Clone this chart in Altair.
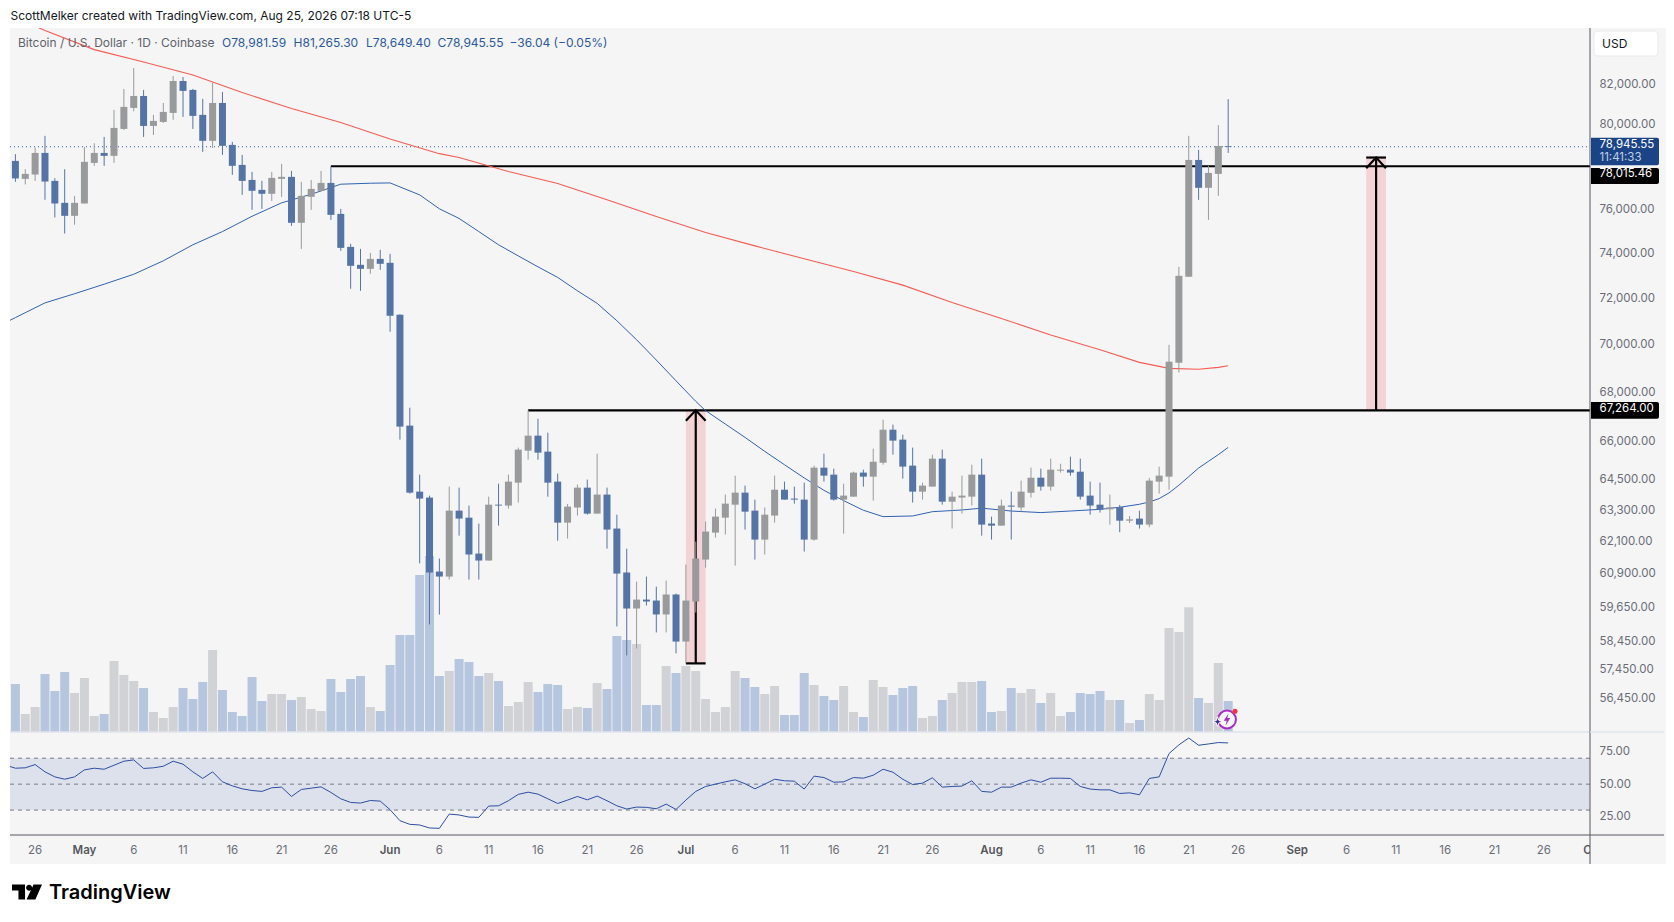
import altair as alt
import pandas as pd

# ---------- data ----------
START = "2026-04-24"
OPEN = [78270,77420,77625,78650,77325,76300,75700,76270,78175,78650,
78510,79805,80830,81420,79950,80145,80585,82165,81720,80490,
79230,81075,79035,78080,77370,76905,76720,77420,77515,75380,
76580,76860,77230,75790,74285,73480,73300,73745,73570,71285,
66640,64020,63790,60985,60800,63285,63015,61655,61395,63515,
63480,64370,65634,66235,65595,64410,62825,63405,64175,63170,
63905,62600,60950,59630,59955,59920,59415,60140,58445,59885,
61430,62445,63015,63515,63980,63285,62180,63095,64095,63750,
63710,62180,64960,64685,63710,63825,64765,64605,65155,66475,
66075,65040,64020,64215,65315,63630,63790,63825,64685,62790,
62710,63480,63405,63980,64565,64215,64840,64880,64800,63865,
63515,63335,63425,62900,62980,62750,64410,64605,69235,72950,
78315,77000,77655,78981.59]
CLOSE = [77440,77655,78650,77295,76270,75700,76300,78225,78650,78510,
79855,80880,81420,79950,80195,80635,82165,81670,80440,79230,
81075,78990,78035,77325,76860,76720,77465,77515,75380,76625,
76950,77230,75745,74240,73435,73300,73745,73525,71240,66600,
63980,63750,60950,60800,63285,62980,61620,61395,63515,63480,
64410,65675,66235,65555,64370,62825,63440,64175,63170,63905,
62560,60910,59630,59955,59885,59415,60140,58445,59920,61470,
62485,63055,63555,63980,63245,62180,63130,64095,63710,63710,
62180,64960,64645,63710,63865,64765,64605,65195,66475,66035,
65000,64020,64255,65315,63630,63825,63865,64685,62750,62710,
63480,63440,64020,64565,64215,64880,64880,64765,63825,63480,
63325,63415,62900,62950,62750,64450,64645,69280,72990,78315,
77000,77700,78981.59,78945.55]
HIGH = [78590,77875,78905,79470,77450,77875,76625,78940,79115,79420,
80735,81770,82815,81720,80490,81075,82415,82365,81770,81275,
82065,81620,79180,78555,77750,77325,77750,78130,77795,77280,
77370,77795,78015,76020,74425,74195,74015,74150,73970,71300,
67370,64685,63865,61470,64215,64175,63480,62790,63825,64330,
64685,65755,67264,66920,66355,64725,63545,64295,64490,65515,
64175,63130,61840,60615,60800,60430,60650,60175,61245,62105,
62865,63365,63905,64645,64255,63710,63405,64645,64410,64215,
64370,65040,65515,64920,64330,64800,64880,65715,66880,66680,
66275,65755,64370,65475,65675,64020,64645,65075,65315,63055,
63710,64020,64450,64960,64920,65315,65115,65395,65315,64410,
64370,63905,63505,63080,63285,64555,65000,69995,73390,79470,
78795,78035,79990,81265.30]
LOW = [77280,77155,77325,76440,75625,74890,75290,76270,78035,78035,
78175,79755,80665,79420,79515,80095,80245,80390,79805,78700,
78890,78555,77610,76670,75975,76020,76390,76580,75240,74195,
75975,76815,75515,74105,72420,72330,73080,73255,70550,66075,
63940,61290,59055,59410,60690,62330,60690,60690,61395,62710,
63365,63595,65275,65275,63825,62140,62220,63095,63130,63170,
61840,58985,57955,58200,59740,58770,58770,58025,57675,59485,
61130,62255,62370,61205,62560,61430,61620,62825,63710,63555,
61730,62140,64410,63670,62405,63825,64215,63670,65075,65475,
64530,63595,63710,64215,63515,62600,63170,63480,62330,62180,
62710,62180,63245,63790,64060,64060,64765,64645,63710,63130,
63210,62750,62460,62810,62600,62650,63940,64095,68820,72950,
76440,75515,76625,78649.40]
VOLUME = [144,54,75,174,123,180,117,162,48,54,
213,171,153,132,60,42,75,132,99,150,
246,126,60,48,165,93,114,114,96,105,
69,63,159,120,159,168,75,63,201,291,
291,471,528,168,183,219,210,168,177,153,
78,90,150,120,144,141,69,75,72,147,
129,288,276,264,81,81,198,177,198,183,
99,60,75,183,162,135,114,138,51,51,
177,141,108,96,138,60,45,156,135,111,
132,138,42,48,96,117,150,150,153,60,
63,132,117,129,87,117,48,60,117,114,
123,96,96,27,36,114,96,312,300,374,
102,87,207,93]
RSI_BEFORE = 64.7
RSI = [62.3,62.6,65.1,59.5,55.6,53.8,55.6,61.0,62.3,61.5,
64.6,67.7,68.7,62.1,62.6,63.8,67.7,65.4,59.5,54.4,
59.5,51.8,48.7,46.4,45.1,44.4,47.2,47.7,40.5,45.9,
46.9,47.9,43.6,38.7,35.9,35.4,37.4,36.9,30.3,21.8,
19.0,18.5,16.2,15.9,26.9,26.2,24.6,24.4,33.1,33.3,
37.2,42.1,43.8,42.3,38.7,35.1,37.7,40.5,37.9,40.8,
37.2,33.3,30.8,32.3,32.1,31.0,34.6,30.5,37.7,44.4,
48.2,50.0,51.8,53.3,50.3,46.4,50.0,53.8,52.6,52.3,
46.2,56.2,55.1,51.5,51.8,55.1,54.6,56.9,61.5,59.2,
53.8,49.7,50.8,54.9,47.7,48.2,48.5,52.6,44.4,43.8,
47.7,47.7,50.8,53.3,51.5,54.6,54.6,54.4,48.2,46.2,
45.6,45.6,42.8,43.3,41.8,54.4,55.6,73.6,80.3,85.6,
80.0,81.0,82.1,81.8]
assert len(OPEN) == len(CLOSE) == len(HIGH) == len(LOW) == len(VOLUME) == len(RSI) == 124

RED_DAY = [2,3,8,13,18,23,28,33,38,43,45,50,55,60,65,70,75,80,85,90,95,100,105,110,114,117,120,122,123]
RED_MA = [84950,84720,83745,83120,82465,81590,80800,80120,79320,78615,78430,77765,77200,76440,75670,
          74940,74330,73750,73185,72580,71820,71125,70410,69785,69250,69000,68960,69040,69110]
BLUE_DAY = [-1,0,3,6,9,12,15,18,21,24,27,30,33,36,38,41,43,45,47,49,51,53,55,57,59,61,63,65,67,69,70,72,
            74,76,78,80,82,84,86,88,91,93,96,98,101,104,107,110,112,114,115,116,117,118,119,120,121,122,123]
BLUE_MA = [70950,71160,71800,72200,72620,73060,73660,74380,74980,75680,76300,76700,77170,77215,77230,76670,76025,
           75580,74980,74380,73880,73390,72920,72330,71780,71025,70210,69350,68480,67630,67250,66705,
           66165,65605,65075,64555,64070,63670,63300,63055,63080,63245,63310,63380,63270,63210,63270,63335,
           63415,63530,63620,63750,63970,64270,64605,64945,65210,65475,65765]

PRICE_TICKS = [82000,80000,76000,74000,72000,70000,68000,66000,64500,63300,62100,60900,59650,58450,57450,56450]
RSI_TICKS = [75,50,25]
DAY_TICKS = ["2026-04-26","2026-05-06","2026-05-11","2026-05-16","2026-05-21","2026-05-26",
             "2026-06-06","2026-06-11","2026-06-16","2026-06-21","2026-06-26",
             "2026-07-06","2026-07-11","2026-07-16","2026-07-21","2026-07-26",
             "2026-08-06","2026-08-11","2026-08-16","2026-08-21","2026-08-26",
             "2026-09-06","2026-09-11","2026-09-16","2026-09-21","2026-09-26"]
MONTH_TICKS = ["2026-05-01","2026-06-01","2026-07-01","2026-08-01","2026-09-01","2026-10-01"]
LAST = 78945.55
RES = 78015.46
SUP = 67264.00
ARROW_A = dict(d0="2026-07-01", d1="2026-07-02", d2="2026-07-03", lo=57675, hi=67264, head=66840)
ARROW_B = dict(d0="2026-09-08", d1="2026-09-09", d2="2026-09-10", lo=67264, hi=78430, head=77923)

# ---------- colours ----------
UP, DOWN = "#999a9b", "#5574a6"
VUP, VDOWN = "#d1d2d6", "#b7c6df"
FONT = "Inter"
BG = "#f5f5f5"
AXC = "#6a6d78"

# ---------- frames ----------
def iso(d):
    return pd.Timestamp(d).strftime("%Y-%m-%dT%H:%M:%SZ")
def ms(d):
    return int(pd.Timestamp(d, tz="UTC").value // 10**6)

t_start = pd.Timestamp(START)
def day(i):
    return iso(t_start + pd.Timedelta(days=i))

df = pd.DataFrame({"date": [day(i) for i in range(124)], "o": OPEN, "c": CLOSE, "h": HIGH, "l": LOW,
                   "vol": VOLUME})
df["col"] = [UP if c >= o else DOWN for o, c in zip(OPEN, CLOSE)]
df["vcol"] = [VUP if c >= o else VDOWN for o, c in zip(OPEN, CLOSE)]
rsi_df = pd.DataFrame({"date": [day(i) for i in range(-1, 124)], "rsi": [RSI_BEFORE] + RSI})
red = pd.DataFrame({"date": [day(i) for i in RED_DAY], "p": RED_MA})
blue = pd.DataFrame({"date": [day(i) for i in BLUE_DAY], "p": BLUE_MA})
one = pd.DataFrame({"a": [0]})

DAY = 86400000
t0 = ms(START)
XS = alt.Scale(type="utc", domain=[t0 - 0.5477 * DAY, t0 + 159.695 * DAY], range=[0, 1580], nice=False, padding=0)
PS = alt.Scale(type="log", domain=[55320, 84853], range=[704, 0], nice=False)
VS = alt.Scale(domain=[0, 2112], range=[704, 0], nice=False)
RS = alt.Scale(domain=[10.77, 90.23], range=[807, 704], nice=False)

X = alt.X("date:T", scale=XS, axis=None)
def Yp(f):
    return alt.Y(f, scale=PS, axis=None)
def Yr(f):
    return alt.Y(f, scale=RS, axis=None)

layers = []

# RSI pane
band = alt.Chart(pd.DataFrame({"a": [70], "b": [30]})).mark_rect(color="#dde1ec").encode(
    x=alt.value(0), x2=alt.value(1580), y=Yr("a:Q"), y2="b:Q")
levels = alt.Chart(pd.DataFrame({"v": [70, 50, 30]})).mark_rule(
    color="#787b86", strokeWidth=1, strokeDash=[4, 4]).encode(
    x=alt.value(0), x2=alt.value(1580), y=Yr("v:Q"))
rsi_line = alt.Chart(rsi_df).mark_line(color="#2c4ea3", strokeWidth=1, clip=True).encode(
    x=X,
    y=alt.Y("rsi:Q", scale=RS, axis=alt.Axis(orient="right", offset=-76, values=RSI_TICKS, format=".2f", title=None,
            domain=False, ticks=False, grid=False, labelColor=AXC, labelFont=FONT, labelFontSize=11.5,
            labelPadding=9, labelOverlap=False, zindex=1)))
layers += [band, levels, rsi_line]

# volume
layers.append(alt.Chart(df).mark_bar(size=9).encode(
    x=X, y=alt.Y("vol:Q", scale=VS, axis=None, stack=None), color=alt.Color("vcol:N", scale=None)))

# time labels
def time_labels(ticks, fmt, weight, color):
    frame = pd.DataFrame({"date": [iso(d) for d in ticks],
                          "t": [pd.Timestamp(d).strftime(fmt).lstrip("0") for d in ticks]})
    return alt.Chart(frame).mark_text(align="center", baseline="middle", font=FONT, fontSize=11.5,
                                      fontWeight=weight, color=color).encode(
        x=X, y=alt.value(823), text="t:N")
layers += [time_labels(DAY_TICKS, "%d", 400, AXC), time_labels(MONTH_TICKS, "%b", 600, "#55585f")]

# last price dotted line
layers.append(alt.Chart(pd.DataFrame({"p": [LAST]})).mark_rule(color="#2f5b9e", strokeWidth=1, strokeDash=[1, 3]).encode(
    x=alt.value(0), x2=alt.value(1580),
    y=alt.Y("p:Q", scale=PS, axis=alt.Axis(orient="right", offset=-76, values=PRICE_TICKS, format=",.2f", title=None,
            domain=False, ticks=False, grid=False, labelColor=AXC, labelFont=FONT, labelFontSize=11.5,
            labelPadding=9, labelOverlap=False, zindex=1))))

# arrow annotations
def arrow(a):
    cap_y = a["lo"] if a is ARROW_A else a["hi"]
    frame = pd.DataFrame({"d0": [iso(a["d0"])], "d1": [iso(a["d1"])], "d2": [iso(a["d2"])],
                          "lo": [a["lo"]], "hi": [a["hi"]], "cap": [cap_y]})
    head = pd.DataFrame({"date": [iso(a["d0"]), iso(a["d1"]), iso(a["d2"])],
                         "p": [a["head"], a["hi"], a["head"]]})
    return [
        alt.Chart(frame).mark_rect(color="#f3d3d6").encode(
            x=alt.X("d0:T", scale=XS, axis=None), x2="d2:T", y=Yp("lo:Q"), y2="hi:Q"),
        alt.Chart(frame).mark_rule(color="#000000", strokeWidth=2.2).encode(
            x=alt.X("d1:T", scale=XS, axis=None), y=Yp("lo:Q"), y2="hi:Q"),
        alt.Chart(frame).mark_rule(color="#000000", strokeWidth=2.2).encode(
            x=alt.X("d0:T", scale=XS, axis=None), x2="d2:T", y=Yp("cap:Q")),
        alt.Chart(head).mark_line(color="#000000", strokeWidth=2.2).encode(x=X, y=Yp("p:Q")),
    ]
layers += arrow(ARROW_A) + arrow(ARROW_B)

# horizontal levels
hl = pd.DataFrame({"date": [iso("2026-05-26"), iso("2026-06-15")], "p": [RES, SUP]})
layers.append(alt.Chart(hl).mark_rule(color="#000000", strokeWidth=2.2).encode(
    x=X, x2=alt.value(1580), y=Yp("p:Q")))

# moving averages
layers.append(alt.Chart(red).mark_line(color="#f65c52", strokeWidth=1.1, clip=True).encode(x=X, y=Yp("p:Q")))
layers.append(alt.Chart(blue).mark_line(color="#2f62b3", strokeWidth=1, clip=True).encode(x=X, y=Yp("p:Q")))

# candles
layers.append(alt.Chart(df).mark_rule(strokeWidth=1).encode(
    x=X, y=Yp("h:Q"), y2="l:Q", color=alt.Color("col:N", scale=None)))
layers.append(alt.Chart(df).mark_bar(size=7).encode(
    x=X, y=alt.Y("o:Q", scale=PS, axis=None, stack=None), y2="c:Q", color=alt.Color("col:N", scale=None)))

# frame lines
layers.append(alt.Chart(one).mark_rule(color="#e1e3ec", strokeWidth=1.5).encode(
    x=alt.value(0), x2=alt.value(1654), y=alt.value(704)))
layers.append(alt.Chart(one).mark_rule(color="#565862", strokeWidth=1).encode(
    x=alt.value(0), x2=alt.value(1654), y=alt.value(807)))
layers.append(alt.Chart(one).mark_rect(color=BG).encode(
    x=alt.value(1580), x2=alt.value(1654), y=alt.value(0), y2=alt.value(836)))
layers.append(alt.Chart(one).mark_rule(color="#565862", strokeWidth=1).encode(
    x=alt.value(1580), y=alt.value(0), y2=alt.value(836)))
layers.append(alt.Chart(one).mark_rule(color="#e1e3ec", strokeWidth=1.5).encode(
    x=alt.value(1580), x2=alt.value(1654), y=alt.value(704)))
layers.append(alt.Chart(one).mark_rule(color="#565862", strokeWidth=1).encode(
    x=alt.value(1580), x2=alt.value(1654), y=alt.value(807)))

# price tags
def tag(y0, y1, fill):
    return alt.Chart(one).mark_rect(color=fill, cornerRadiusTopRight=2, cornerRadiusBottomRight=2).encode(
        x=alt.value(1581), x2=alt.value(1649), y=alt.value(y0), y2=alt.value(y1))
layers += [tag(109.7, 137.3, "#1a4486"), tag(140, 156, "#000000"), tag(374, 390.7, "#000000")]

def label(s, x, y, color=AXC, size=11.5, weight=400, font=FONT):
    return alt.Chart(pd.DataFrame({"t": [s]})).mark_text(
        align="left", baseline="middle", color=color, fontSize=size, fontWeight=weight, font=font
    ).encode(x=alt.value(x), y=alt.value(y), text="t:N")

layers += [
    label("78,945.55", 1589.5, 117, "#ffffff"),
    label("11:41:33", 1589.5, 130, "#c3cfe2"),
    label("78,015.46", 1589.5, 146.3, "#ffffff"),
    label("67,264.00", 1589.5, 381.3, "#ffffff"),
]

# USD box
layers.append(alt.Chart(one).mark_rect(color="#ffffff", cornerRadius=4, stroke="#e8e9ee").encode(
    x=alt.value(1584), x2=alt.value(1648), y=alt.value(3), y2=alt.value(28)))
layers.append(label("USD", 1592, 15.8, "#131722", 12))

# header and legend text
layers += [
    label("ScottMelker created with TradingView.com, Aug 25, 2026 07:18 UTC-5", 0.5, -12.3, "#131722", 12),
    label("Bitcoin / U.S. Dollar · 1D · Coinbase", 8, 15.2, "#5f626c", 12),
    label("O78,981.59", 212, 15.2, "#2a5a9e", 12),
    label("H81,265.30", 283.6, 15.2, "#2a5a9e", 12),
    label("L78,649.40", 356, 15.2, "#2a5a9e", 12),
    label("C78,945.55", 427.5, 15.2, "#2a5a9e", 12),
    label("−36.04 (−0.05%)", 499.5, 15.2, "#2a5a9e", 12),
]

# TradingView logo
LOGO = ("M-1 -.5 H-.13 V.5 H-.57 V-.1 H-1 Z "
        "M-.06 -.28 A.2 .2 0 1 1 .34 -.28 A.2 .2 0 1 1 -.06 -.28 Z "
        "M.44 -.5 H1 L.56 .5 H-.03 Z")
layers.append(alt.Chart(one).mark_point(shape=LOGO, size=900, filled=True, color="#000000", opacity=1, strokeWidth=0).encode(
    x=alt.value(17), y=alt.value(864)))
layers.append(label("TradingView", 39, 864.5, "#000000", 20, 600))

# assistant icon
layers.append(alt.Chart(one).mark_point(shape="circle", size=320, filled=True, color="#f5f5f5", opacity=1, stroke="#a62cc4", strokeWidth=2).encode(
    x=alt.value(1217), y=alt.value(691.5)))
BOLT = "M.25 -1 L-.55 .2 H-.05 L-.25 1 L.55 -.25 H.05 Z"
layers.append(alt.Chart(one).mark_point(shape=BOLT, size=144, filled=True, color="#a62cc4", opacity=1, strokeWidth=0).encode(
    x=alt.value(1217), y=alt.value(691.5)))
STAR = "M0 -1 L.25 -.25 L1 0 L.25 .25 L0 1 L-.25 .25 L-1 0 L-.25 -.25 Z"
layers.append(alt.Chart(one).mark_point(shape=STAR, size=100, filled=True, color="#3f2a9e", opacity=1, stroke="#ffffff", strokeWidth=1).encode(
    x=alt.value(1207.6), y=alt.value(693.7)))
layers.append(alt.Chart(one).mark_point(shape="circle", size=26, filled=True, color="#f23645", opacity=1, strokeWidth=0).encode(
    x=alt.value(1225), y=alt.value(683.3)))

chart = alt.layer(*layers).resolve_scale(y="independent").properties(
    width=1656, height=836,
    padding={"left": 2, "top": 20, "right": 0, "bottom": 50},
    autosize=alt.AutoSizeParams(type="none"),
    background="#ffffff",
).configure_view(fill=BG, strokeWidth=0)

chart.save("out.html", embed_options={"renderer": "svg", "actions": False})
